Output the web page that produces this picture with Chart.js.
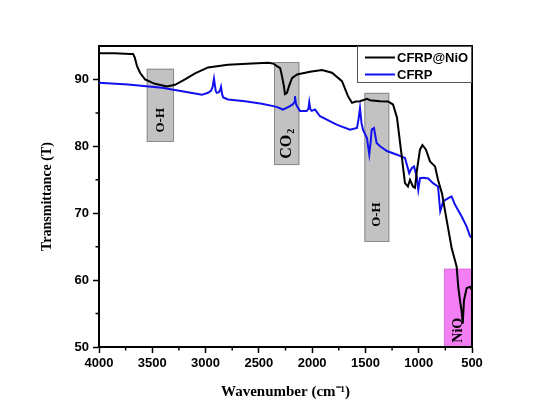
<!DOCTYPE html>
<html>
<head>
<meta charset="utf-8">
<script src="https://cdn.jsdelivr.net/npm/chart.js@4.4.1/dist/chart.umd.min.js"></script>
<style>
  html, body { margin: 0; padding: 0; background: #ffffff; }
  #c { display: block; }
</style>
</head>
<body>
<canvas id="c" width="550" height="420"></canvas>
<script>
// ---------------- DATA ----------------
const seriesLabels = ['CFRP@NiO', 'CFRP'];

const nioWavenumber = [4000,3850,3709,3680,3665,3643,3615,3568,3475,3362,3287,3193,3099,2977,2790,2564,2414,2367,2330,2300,2283,2265,2255,2236,2217,2189,2142,2020,1908,1814,1720,1664,1626,1590,1551,1485,1457,1363,1288,1241,1204,1167,1129,1101,1082,1054,1035,1016,988,965,932,894,847,819,781,738,691,644,629,613,597,587,575,550,519,500];
const nioTransmittance = [93.9,93.9,93.8,93.8,93.3,92.0,91.0,90.0,89.35,88.95,89.2,90.0,90.9,91.8,92.2,92.4,92.5,92.4,92.0,91.7,90.5,89.0,87.8,88.0,89.0,90.2,90.75,91.15,91.4,91.0,89.75,87.5,86.5,86.7,86.75,87.1,86.9,86.75,86.7,86.25,84.3,79.5,74.5,74.0,75.0,74.0,73.8,76.5,79.5,80.2,79.5,77.75,77.0,75.0,72.9,69.0,64.8,62.0,59.0,57.0,55.3,53.5,57.0,58.8,59.0,58.5];

const cfrpWavenumber = [4000,3728,3409,3099,3034,2977,2950,2935,2921,2905,2896,2874,2862,2855,2845,2834,2790,2630,2471,2333,2274,2208,2180,2168,2161,2152,2142,2114,2051,2035,2027,2018,2004,1973,1926,1770,1645,1579,1565,1551,1537,1523,1485,1475,1464,1452,1441,1420,1395,1363,1298,1204,1129,1089,1066,1044,1019,1004,988,960,910,866,819,798,769,707,691,660,597,550,519,500];
const cfrpTransmittance = [89.5,89.25,88.75,87.9,87.7,88.0,88.3,88.8,90.1,88.3,88.0,88.1,88.5,88.9,87.8,87.3,87.0,86.75,86.35,85.9,85.5,86.0,86.3,86.6,87.5,86.4,86.0,85.3,85.3,85.6,86.6,85.6,85.3,85.5,84.5,83.25,82.5,82.75,84.0,85.75,83.5,82.5,81.2,80.0,78.8,80.5,82.5,82.75,80.5,80.0,79.3,78.75,78.25,76.0,76.75,77.0,75.5,73.5,75.25,75.3,75.2,74.5,74.0,70.3,71.8,72.4,72.5,71.3,69.5,68.0,66.6,66.3];

// absorption bands: wavenumber range, transmittance range, label, label centre (transmittance)
const bandFrom  = [3552, 2358, 1510, 763];
const bandTo    = [3296, 2120, 1276, 500];
const bandLow   = [80.65, 77.2, 65.7, 50.2];
const bandHigh  = [91.6, 92.6, 88.0, 61.7];
const bandLabel = ['O-H', 'CO|2', 'O-H', 'NiO'];
const bandLabelAt = [83.9, 80.3, 69.8, 52.5];

const xTickValues = [4000, 3500, 3000, 2500, 2000, 1500, 1000, 500];
const yTickValues = [50, 60, 70, 80, 90];

const xTitle = 'Wavenumber (cm\u207B\u00B9)';
const yTitle = 'Transmittance (T)';

// ---------------- STYLE ----------------
const lineColors = ['#000000', '#1010f0'];
const bandFill   = ['#c2c2c2', '#c2c2c2', '#c2c2c2', '#f47ef4'];
const bandEdge   = ['#8a8a8a', '#8a8a8a', '#8a8a8a', '#e070e0'];
const bandFontPx = [13, 16, 13, 14];
const SANS = "'Liberation Sans', Arial, sans-serif";
const SERIF = "'Liberation Serif', 'Times New Roman', serif";

function toPoints(xs, ys) { return xs.map((x, i) => ({ x: x, y: ys[i] })); }

const decorPlugin = {
  id: 'decor',
  beforeDatasetsDraw(chart) {
    const { ctx, chartArea, scales: { x, y } } = chart;
    ctx.save();
    ctx.beginPath();
    ctx.rect(chartArea.left, chartArea.top, chartArea.right - chartArea.left, chartArea.bottom - chartArea.top);
    ctx.clip();
    for (let i = 0; i < bandFrom.length; i++) {
      const x1 = x.getPixelForValue(bandFrom[i]);
      const x2 = x.getPixelForValue(bandTo[i]);
      const y1 = y.getPixelForValue(bandHigh[i]);
      const y2 = y.getPixelForValue(bandLow[i]);
      ctx.fillStyle = bandFill[i];
      ctx.fillRect(x1, y1, x2 - x1, y2 - y1);
      ctx.strokeStyle = bandEdge[i];
      ctx.lineWidth = 1;
      ctx.strokeRect(x1 + 0.5, y1 + 0.5, x2 - x1 - 1, y2 - y1 - 1);
      // rotated label
      const cx = (x1 + x2) / 2;
      const cy = y.getPixelForValue(bandLabelAt[i]);
      ctx.save();
      ctx.translate(cx, cy);
      ctx.rotate(-Math.PI / 2);
      ctx.fillStyle = '#000';
      ctx.textBaseline = 'middle';
      const fs = bandFontPx[i];
      const parts = bandLabel[i].split('|');
      ctx.font = 'bold ' + fs + 'px ' + SERIF;
      const w1 = ctx.measureText(parts[0]).width;
      let w2 = 0;
      if (parts[1]) { ctx.font = 'bold ' + Math.round(fs * 0.6) + 'px ' + SERIF; w2 = ctx.measureText(parts[1]).width; }
      const start = -(w1 + w2) / 2;
      ctx.font = 'bold ' + fs + 'px ' + SERIF;
      ctx.textAlign = 'left';
      ctx.fillText(parts[0], start, 0);
      if (parts[1]) {
        ctx.font = 'bold ' + Math.round(fs * 0.6) + 'px ' + SERIF;
        ctx.fillText(parts[1], start + w1 + 1, fs * 0.3);
      }
      ctx.restore();
    }
    ctx.restore();
  },
  afterDraw(chart) {
    const { ctx, chartArea, scales: { x, y } } = chart;
    ctx.save();
    // frame (top & right)
    ctx.strokeStyle = '#000';
    ctx.lineWidth = 2;
    ctx.beginPath();
    ctx.moveTo(chartArea.left, chartArea.top);
    ctx.lineTo(chartArea.right, chartArea.top);
    ctx.lineTo(chartArea.right, chartArea.bottom);
    ctx.stroke();
    // minor ticks
    ctx.lineWidth = 1.5;
    ctx.beginPath();
    x.ticks.forEach(t => {
      if (!xTickValues.includes(t.value)) {
        const px = x.getPixelForValue(t.value);
        ctx.moveTo(px, chartArea.bottom);
        ctx.lineTo(px, chartArea.bottom + 3.5);
      }
    });
    y.ticks.forEach(t => {
      if (!yTickValues.includes(t.value) && t.value < y.max) {
        const py = y.getPixelForValue(t.value);
        ctx.moveTo(chartArea.left, py);
        ctx.lineTo(chartArea.left - 3.5, py);
      }
    });
    ctx.stroke();
    // legend
    const lw = 115, lh = 37;
    const lx = chartArea.right - lw, ly = chartArea.top;
    ctx.fillStyle = '#fff';
    ctx.fillRect(lx, ly, lw, lh);
    ctx.strokeStyle = '#555';
    ctx.lineWidth = 1;
    ctx.strokeRect(lx + 0.5, ly + 0.5, lw - 1, lh - 1);
    ctx.font = 'bold 13px ' + SANS;
    ctx.textBaseline = 'middle';
    ctx.textAlign = 'left';
    chart.data.datasets.forEach((ds, i) => {
      const yy = ly + 11.5 + i * 17;
      ctx.strokeStyle = ds.borderColor;
      ctx.lineWidth = 2;
      ctx.beginPath();
      ctx.moveTo(lx + 8, yy);
      ctx.lineTo(lx + 38, yy);
      ctx.stroke();
      ctx.fillStyle = '#000';
      ctx.fillText(ds.label, lx + 40, yy + 0.5);
    });
    ctx.restore();
  }
};

new Chart(document.getElementById('c'), {
  type: 'line',
  data: {
    datasets: [
      { label: seriesLabels[0], data: toPoints(nioWavenumber, nioTransmittance), borderColor: lineColors[0], borderWidth: 2, pointRadius: 0, tension: 0, fill: false },
      { label: seriesLabels[1], data: toPoints(cfrpWavenumber, cfrpTransmittance), borderColor: lineColors[1], borderWidth: 2, pointRadius: 0, tension: 0, fill: false }
    ]
  },
  options: {
    responsive: false,
    animation: false,
    devicePixelRatio: 1,
    layout: { padding: { left: 0, top: 46, right: 78, bottom: 0 } },
    plugins: { legend: { display: false }, tooltip: { enabled: false } },
    scales: {
      x: {
        type: 'linear', min: 500, max: 4000, reverse: true,
        afterFit: s => { s.height = 73; },
        afterBuildTicks: s => {
          const t = [];
          for (let v = s.min; v <= s.max; v += 250) t.push({ value: v });
          s.ticks = t;
        },
        ticks: {
          autoSkip: false, maxRotation: 0, padding: 3, color: '#000',
          font: { family: SANS, size: 13, weight: 'bold' },
          callback: v => xTickValues.includes(v) ? String(v) : ''
        },
        grid: {
          drawOnChartArea: false, tickLength: 6, tickWidth: 1.5,
          tickColor: c => (c.tick && xTickValues.includes(c.tick.value)) ? '#000' : 'rgba(0,0,0,0)'
        },
        border: { color: '#000', width: 2 },
        title: { display: true, text: xTitle, color: '#000', font: { family: SERIF, size: 15, weight: 'bold' }, padding: { top: 0, bottom: 19 } }
      },
      y: {
        type: 'linear', min: 50, max: 95,
        afterFit: s => { s.width = 99; },
        afterBuildTicks: s => {
          const t = [];
          for (let v = s.min; v <= s.max; v += 5) t.push({ value: v });
          s.ticks = t;
        },
        ticks: {
          autoSkip: false, padding: 4, color: '#000',
          font: { family: SANS, size: 13, weight: 'bold' },
          callback: v => yTickValues.includes(v) ? String(v) : ''
        },
        grid: {
          drawOnChartArea: false, tickLength: 6, tickWidth: 1.5,
          tickColor: c => (c.tick && yTickValues.includes(c.tick.value)) ? '#000' : 'rgba(0,0,0,0)'
        },
        border: { color: '#000', width: 2 },
        title: { display: true, text: yTitle, color: '#000', font: { family: SERIF, size: 14, weight: 'bold' }, padding: { top: 39, bottom: 0 } }
      }
    }
  },
  plugins: [decorPlugin]
});
</script>
</body>
</html>
